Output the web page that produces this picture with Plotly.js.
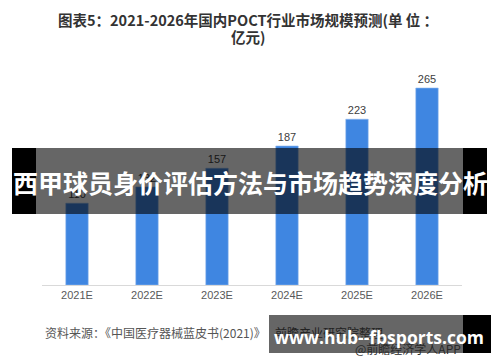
<!DOCTYPE html>
<html><head><meta charset="utf-8">
<script src="https://cdn.plot.ly/plotly-3.0.1.min.js"></script>
<style>html,body{margin:0;padding:0;background:#fff;}#c{width:500px;height:362px;}</style>
</head><body><div id="c"></div>
<script>
const categories = ["2021E","2022E","2023E","2024E","2025E","2026E"];
const marketSize = [110, 132, 157, 187, 223, 265];
const titleLine1 = "图表5：2021-2026年国内POCT行业市场规模预测(单 位 ：";
const titleLine2 = "亿元)";
const sourceTextA = "资料来源：《中国医疗器械蓝皮书(2021)》";
const sourceTextB = "前瞻产业研究院整理";
const creditText = "@前瞻经济学人APP";
const bannerText = "西甲球员身价评估方法与市场趋势深度分析";
const siteText = "www.hub--fbsports.com";

const L = 42, R = 462, T = 62, B = 285;
const px = x => (x - L) / (R - L);
const py = y => (B - y) / (B - T);
const rect = (x0, y0, x1, y1, fill) => ({type:'rect', xref:'paper', yref:'paper', layer:'above',
  x0:px(x0), x1:px(x1), y0:py(y1), y1:py(y0), fillcolor:fill, line:{width:0}});
const FONT = '"Noto Sans CJK SC", "Microsoft YaHei", sans-serif';
const note = (x, y, xa, text, font, extra) => Object.assign({xref:'paper', yref:'paper',
  x:px(x), y:py(y), xanchor:xa, yanchor:'middle', showarrow:false, text:text, font:font}, extra || {});

const trace = {
  type:'bar', x:categories, y:marketSize,
  marker:{color:'#3f86e1', line:{color:'#8bb6ee', width:0.6}},
  text:marketSize.map(String), textposition:'outside', cliponaxis:false,
  textfont:{size:11, color:'#404040', family:'"Liberation Sans", Arial, sans-serif'},
  hoverinfo:'none'
};

const layout = {
  width:500, height:362, showlegend:false,
  paper_bgcolor:'#fff', plot_bgcolor:'#fff',
  margin:{l:L, r:500-R, t:T, b:362-B},
  bargap:0.68,
  xaxis:{type:'category', showline:true, linecolor:'#d9d9d9', linewidth:1, ticks:'',
    showgrid:false, zeroline:false,
    tickfont:{size:11, color:'#595959', family:'"Liberation Sans", Arial, sans-serif'}},
  yaxis:{range:[0,300], visible:false, showgrid:false, zeroline:false},
  shapes:[
    rect(12,148,36,214,'#000'),
    rect(36,148,463,214,'rgba(0,0,0,0.6)'),
    rect(463,148,487,214,'#000'),
    rect(269,315,463,353,'rgba(0,0,0,0.6)'),
    rect(463,315,491,353,'#000')
  ],
  annotations:[
    note(248, 20, 'center', '<b>'+titleLine1+'</b>', {size:14.5, color:'#333', family:FONT}),
    note(248, 36, 'center', '<b>'+titleLine2+'</b>', {size:14.5, color:'#333', family:FONT}),
    note(43, 332, 'left', sourceTextA, {size:12, color:'#555', family:FONT}),
    note(273, 332, 'left', sourceTextB, {size:12, color:'#222', family:FONT}),
    note(463, 348, 'right', creditText, {size:12, color:'#2a2a2a', family:FONT}),
    note(250, 182, 'center', '<b>'+bannerText+'</b>', {size:25, color:'#fff', family:FONT}),
    note(379, 337, 'center', '<b>'+siteText+'</b>', {size:17.5, color:'#fff', family:'"Open Sans", "DejaVu Sans", sans-serif'})
  ]
};
Plotly.newPlot('c',[trace],layout,{staticPlot:true});
</script></body></html>
